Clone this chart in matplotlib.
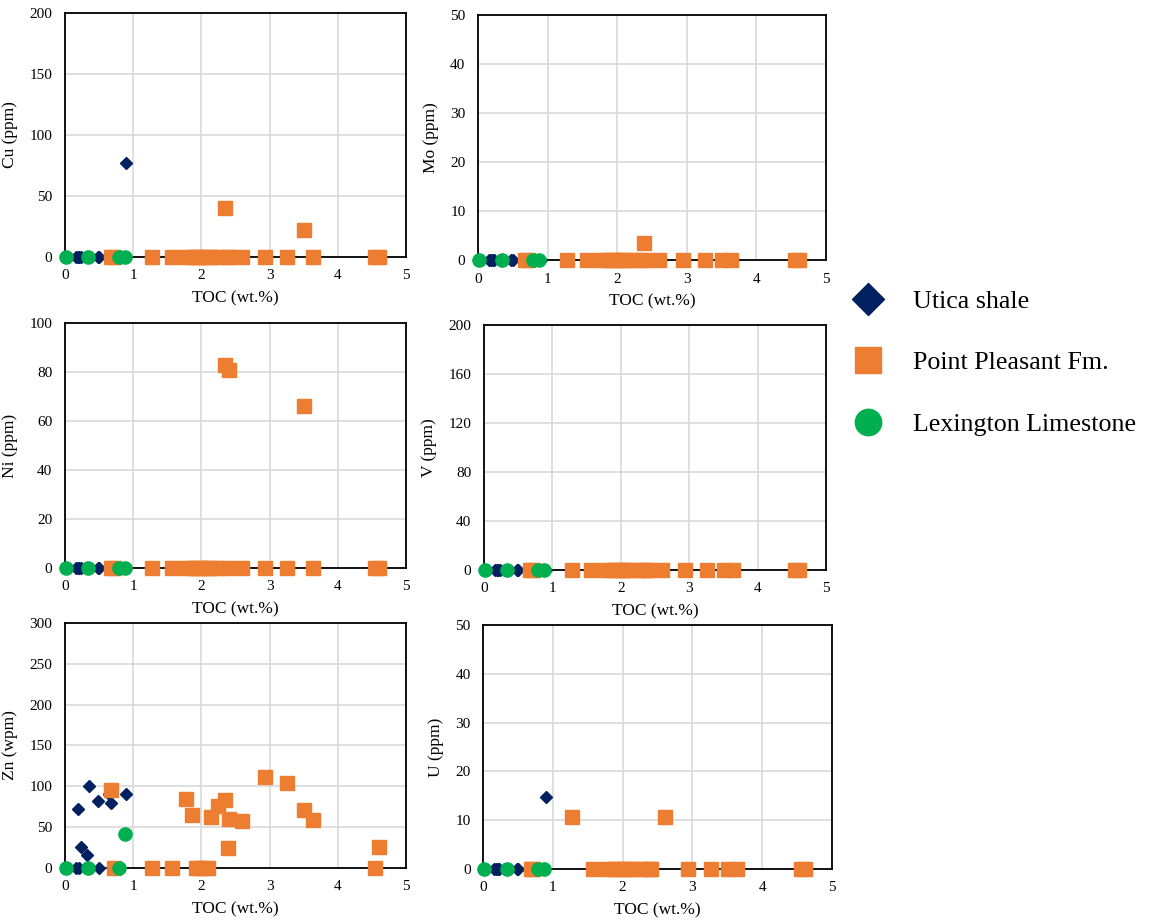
import matplotlib.pyplot as plt
from matplotlib.lines import Line2D
from matplotlib.ticker import MultipleLocator

plt.rcParams['font.family'] = 'Liberation Serif'

# TOC (wt.%) of the samples in each unit
toc_utica = [0.16, 0.19, 0.21, 0.23, 0.32, 0.35, 0.48, 0.50, 0.65, 0.68, 0.90]
toc_pp = [0.68, 0.72, 1.28, 1.57, 1.77, 1.86, 1.92, 1.97, 2.03, 2.09, 2.14,
          2.25, 2.34, 2.39, 2.41, 2.60, 2.94, 3.26, 3.51, 3.64, 4.55, 4.61]
toc_lex = [0.02, 0.34, 0.79, 0.88]

# trace element contents (ppm), same sample order as above
cu_utica = [0, 0, 0, 0, 0, 0, 0, 0, 0, 0, 77]
cu_pp = [0, 0, 0, 0, 0, 0, 0, 0, 0, 0, 0, 0, 40, 0, 0, 0, 0, 0, 22, 0, 0, 0]
cu_lex = [0, 0, 0, 0]

mo_utica = [0, 0, 0, 0, 0, 0, 0, 0, 0, 0, 0]
mo_pp = [0, 0, 0, 0, 0, 0, 0, 0, 0, 0, 0, 0, 0, 3.5, 0, 0, 0, 0, 0, 0, 0, 0]
mo_lex = [0, 0, 0, 0]

ni_utica = [0, 0, 0, 0, 0, 0, 0, 0, 0, 0, 0]
ni_pp = [0, 0, 0, 0, 0, 0, 0, 0, 0, 0, 0, 0, 83, 0, 81, 0, 0, 0, 66, 0, 0, 0]
ni_lex = [0, 0, 0, 0]

v_utica = [0, 0, 0, 0, 0, 0, 0, 0, 0, 0, 0]
v_pp = [0, 0, 0, 0, 0, 0, 0, 0, 0, 0, 0, 0, 0, 0, 0, 0, 0, 0, 0, 0, 0, 0]
v_lex = [0, 0, 0, 0]

zn_utica = [0, 72, 0, 26, 16, 100, 82, 0, 90, 79, 90]
zn_pp = [95, 0, 0, 0, 85, 65, 0, 0, 0, 0, 62, 76, 83, 25, 60, 58, 112, 104,
         71, 59, 0, 26]
zn_lex = [0, 0, 0, 42]

u_utica = [0, 0, 0, 0, 0, 0, 0, 0, 0, 0, 14.7]
u_pp = [0, 0, 10.7, 0, 0, 0, 0, 0, 0, 0, 0, 0, 0, 0, 0, 10.7, 0, 0, 0, 0, 0, 0]
u_lex = [0, 0, 0, 0]

labels = ['Utica shale', 'Point Pleasant Fm.', 'Lexington Limestone']
c_utica = '#002060'
c_pp = '#ED7D31'
c_lex = '#00B050'

# (axes rect, y label, y max, y step, values)
panels = [
    ([0.0564, 0.7213, 0.296, 0.2646], 'Cu (ppm)', 200, 50, cu_utica, cu_pp, cu_lex),
    ([0.4149, 0.7180, 0.3021, 0.2657], 'Mo (ppm)', 50, 10, mo_utica, mo_pp, mo_lex),
    ([0.0564, 0.3840, 0.296, 0.2657], 'Ni (ppm)', 100, 20, ni_utica, ni_pp, ni_lex),
    ([0.4201, 0.3818, 0.2969, 0.2657], 'V (ppm)', 200, 40, v_utica, v_pp, v_lex),
    ([0.0564, 0.0586, 0.296, 0.2657], 'Zn (wpm)', 300, 50, zn_utica, zn_pp, zn_lex),
    ([0.4193, 0.0575, 0.3030, 0.2646], 'U (ppm)', 50, 10, u_utica, u_pp, u_lex),
]

fig = plt.figure(figsize=(11.52, 9.22), dpi=100)

for rect, ylab, ymax, ystep, ut, pp, lex in panels:
    ax = fig.add_axes(rect)
    ax.plot(toc_utica, ut, 'D', color=c_utica, ms=6.5, clip_on=False, zorder=3)
    ax.plot(toc_pp, pp, 's', color=c_pp, ms=10, clip_on=False, zorder=4)
    ax.plot(toc_lex, lex, 'o', color=c_lex, ms=9.5, clip_on=False, zorder=5)
    ax.set_xlim(0, 5)
    ax.set_ylim(0, ymax)
    ax.xaxis.set_major_locator(MultipleLocator(1))
    ax.yaxis.set_major_locator(MultipleLocator(ystep))
    ax.grid(True, color='#D9D9D9', lw=1.2)
    ax.set_axisbelow(True)
    for s in ax.spines.values():
        s.set_color('black')
        s.set_linewidth(1.3)
    ax.tick_params(length=0, labelsize=11, pad=9)
    ax.set_xlabel('TOC (wt.%)', fontsize=12.5, labelpad=6)
    ax.set_ylabel(ylab, fontsize=12.5, labelpad=8)

handles = [
    Line2D([], [], ls='none', marker='D', color=c_utica, ms=16),
    Line2D([], [], ls='none', marker='s', color=c_pp, ms=19),
    Line2D([], [], ls='none', marker='o', color=c_lex, ms=19),
]
fig.legend(handles, labels, loc='upper left', bbox_to_anchor=(0.728, 0.697),
           frameon=False, fontsize=18.7, labelspacing=1.47, handlelength=1.45,
           handletextpad=1.0, borderaxespad=0)

fig.savefig('out.png', dpi=100)
